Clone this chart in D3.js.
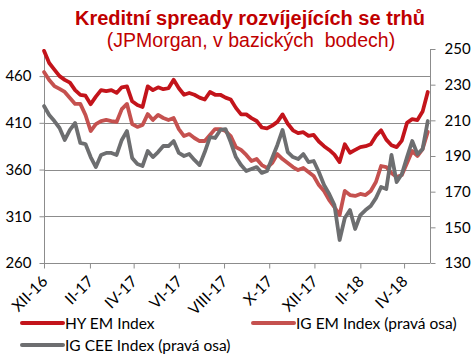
<!DOCTYPE html>
<html><head><meta charset="utf-8">
<script src="https://cdn.jsdelivr.net/npm/d3@7"></script>
<style>
html,body{margin:0;padding:0;background:#fff;}
svg{display:block;}
</style></head>
<body>
<svg id="c" width="474" height="356"></svg>
<script>
// ---- data (weekly samples, starting 1 Dec 2016) ----
const startDate = "2016-12-01";
const stepDays = 7;
const hyEM = [487,474,467,460,456,453,445,440,439,430,438,445,444,445,442,448,449,433,429,427,449,445,448,446,447,456,447,440,442,440,437,435,443,440,440,437,435,426,419,419,415,412,405,404,407,411,419,409,402,399,400,396,397,390,385,381,376,368,387,378,381,384,385,387,396,402,392,386,384,391,410,414,413,422,443];
const igEM = [237.1,232.6,229.2,227.6,225.9,222.5,219.2,219.2,213,204,207.9,209.6,210.2,209.6,209.1,216.3,219.2,207.9,206.3,207.4,213.5,210.2,213,211.3,210.2,211.3,205.1,201.2,202.3,200.1,198.4,198.4,201.8,205.1,205.1,204,201.2,195,193.4,190.6,187.2,188.3,184.9,183.3,186.1,191.1,188.3,186.1,183.8,182.1,183.3,181,178.8,173.7,170.4,165.3,161.4,156.9,170.4,168.1,167.6,168.7,168.1,170.4,175.4,184.4,183.8,180.5,178.2,179.3,186.1,192.8,190,193.9,203.5];
const igCEE = [218,213,209.6,205.7,199,204.6,208.5,197.3,196.7,189.4,183.8,190.6,191.7,191.7,190.6,199,204,188.9,185.5,184.4,192.8,189.4,192.2,195.6,195.6,198.4,191.7,190,191.1,187.8,184.9,192.2,200.6,200.1,204.6,205.1,197.8,189.4,184.9,181.6,182.7,183.8,180.5,181.6,188.9,196.2,204.6,192.2,189.4,188.3,191.1,186.6,187.2,181,173.7,168.7,162.5,142.9,155.2,159.7,149.1,156.9,159.7,162,166.4,172.6,171.5,190.6,175.4,179.9,189.4,198.4,191.1,193.9,209.6];
const tickDates = ["2016-12-01","2017-02-01","2017-04-01","2017-06-01","2017-08-01","2017-10-01","2017-12-01","2018-02-01","2018-04-01"];
const tickLabels = ["XII-16","II-17","IV-17","VI-17","VIII-17","X-17","XII-17","II-18","IV-18"];
const leftTicks = [260,310,360,410,460];
const rightTicks = [130,150,170,190,210,230,250];
const seriesNames = ["HY EM Index","IG EM Index (pravá osa)","IG CEE Index (pravá osa)"];
const titleText = "Kreditní spready rozvíjejících se trhů";
const subtitleText = "(JPMorgan, v bazických  bodech)";

// ---- layout ----
const parse = d3.utcParse("%Y-%m-%d");
const t0 = parse(startDate);
const dates = hyEM.map((_, i) => d3.utcDay.offset(t0, i * stepDays));
const X0 = 44, X1 = 430, Y0 = 49, Y1 = 263;
const x = d3.scaleUtc().domain([t0, d3.utcDay.offset(t0, 521)]).range([X0, X1]);
const yL = d3.scaleLinear().domain([260, 489]).range([Y1, Y0]);
const yR = d3.scaleLinear().domain([130, 250]).range([Y1, Y0]);

const colHY = "#c3141b", colIG = "#c5514f", colCEE = "#6d6e70";
const axisCol = "#8c8c8c";
const labFont = "Lato, 'Open Sans', sans-serif";

const svg = d3.select("#c");

// gridlines
svg.append("g").selectAll("line").data(leftTicks.slice(1)).join("line")
  .attr("x1", X0).attr("x2", X1)
  .attr("y1", d => Math.round(yL(d)) + 0.5).attr("y2", d => Math.round(yL(d)) + 0.5)
  .attr("stroke", axisCol).attr("stroke-width", 1);

// left axis
const gl = svg.append("g").attr("transform", `translate(${X0 + 0.5},0)`)
  .call(d3.axisLeft(yL).tickValues(leftTicks).tickSize(5).tickFormat(d3.format("d")));
// right axis
const gr = svg.append("g").attr("transform", `translate(${X1 + 0.5},0)`)
  .call(d3.axisRight(yR).tickValues(rightTicks).tickSize(5).tickFormat(d3.format("d")));
// bottom axis
const gb = svg.append("g").attr("transform", `translate(0,${Y1 + 0.5})`)
  .call(d3.axisBottom(x).tickValues(tickDates.map(parse)).tickSize(5).tickFormat((d, i) => tickLabels[i]));

[gl, gr, gb].forEach(g => {
  g.select(".domain").attr("stroke", axisCol);
  g.selectAll(".tick line").attr("stroke", axisCol);
  g.selectAll("text").attr("fill", "#000").style("font-family", labFont).style("font-size", "15px");
});
gl.select(".domain").attr("d", `M0,${Y0}V${Y1}`);
gr.select(".domain").attr("d", `M0,${Y0}V${Y1}`);
gb.select(".domain").attr("d", `M${X0},0H${X1}`);
gl.selectAll("text").attr("x", -13);
gr.selectAll("text").attr("x", 14);
gb.selectAll("text")
  .style("font-size", "15.5px")
  .attr("text-anchor", "end")
  .attr("dy", null)
  .attr("y", 0)
  .attr("transform", "translate(4,19) rotate(-45)");

// lines
function addLine(vals, scale, col) {
  const line = d3.line().x((d, i) => x(dates[i])).y(d => scale(d));
  svg.append("path").datum(vals).attr("d", line)
    .attr("fill", "none").attr("stroke", col).attr("stroke-width", 3.8)
    .attr("stroke-linejoin", "round").attr("stroke-linecap", "round");
}
addLine(hyEM, yL, colHY);
addLine(igEM, yR, colIG);
addLine(igCEE, yR, colCEE);

// title
svg.append("text").attr("x", 250).attr("y", 25).attr("text-anchor", "middle")
  .style("font-family", "'Liberation Sans', Arial, sans-serif").style("font-weight", "bold")
  .style("font-size", "20px").attr("fill", "#c00000").text(titleText);
svg.append("text").attr("x", 251).attr("y", 47).attr("text-anchor", "middle")
  .style("font-family", "'Liberation Sans', Arial, sans-serif").style("white-space", "pre")
  .style("font-size", "19.5px").attr("fill", "#c00000").text(subtitleText);

// legend
const legItems = [
  {name: seriesNames[0], col: colHY, lx: 22, ly: 323},
  {name: seriesNames[1], col: colIG, lx: 253, ly: 323},
  {name: seriesNames[2], col: colCEE, lx: 22, ly: 345}
];
const lg = svg.append("g").selectAll("g").data(legItems).join("g");
lg.append("line").attr("x1", d => d.lx).attr("x2", d => d.lx + 41)
  .attr("y1", d => d.ly).attr("y2", d => d.ly)
  .attr("stroke", d => d.col).attr("stroke-width", 4).attr("stroke-linecap", "round");
lg.append("text").attr("x", d => d.lx + 43).attr("y", d => d.ly + 5.5)
  .style("font-family", labFont).style("font-size", "15.5px").attr("fill", "#000")
  .text(d => d.name);
</script>
</body></html>
